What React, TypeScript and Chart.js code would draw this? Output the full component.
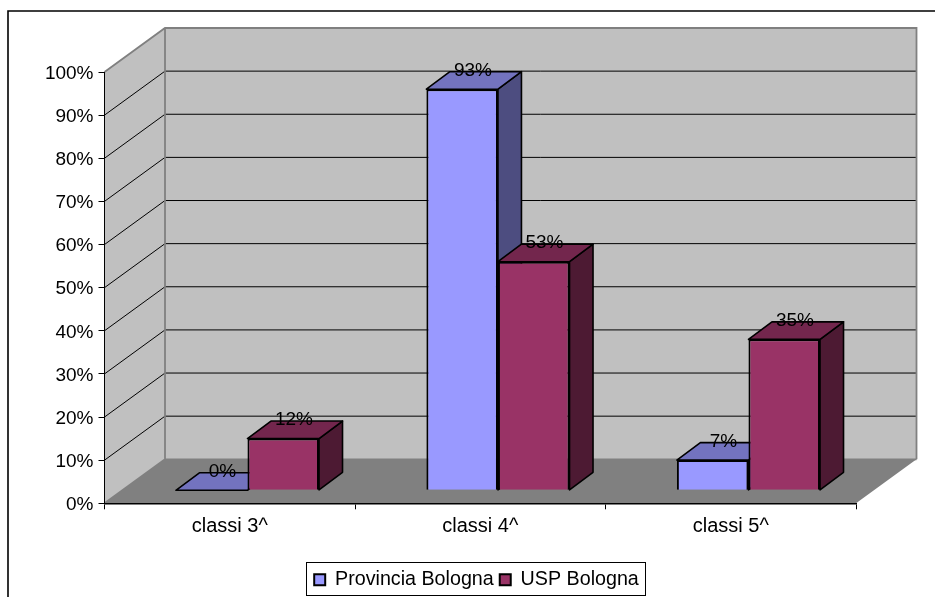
import React, { useEffect, useRef } from "react";
import { Chart, registerables } from "chart.js";

Chart.register(...registerables);

const categories = ["classi 3^", "classi 4^", "classi 5^"];
const provinciaBologna = [0, 93, 7];
const uspBologna = [12, 53, 35];
const seriesNames = ["Provincia Bologna", "USP Bologna"];
const frontColors = ["#9999FF", "#993366"];
const topColors = ["#7373BF", "#73264D"];
const sideColors = ["#4D4D80", "#4D1A33"];

const FONT = '"Liberation Sans", Arial, sans-serif';
const WALL = { dx: 60.5, dy: -44 };
const BAR_PLANE = { dx: 17.7, dy: -13 };
const BAR_DEPTH = { dx: 23.5, dy: -17.5 };

const poly = (ctx: any, pts: number[][], fill: string | null, stroke?: string, lw = 1) => {
  ctx.beginPath();
  pts.forEach((p, i) => (i ? ctx.lineTo(p[0], p[1]) : ctx.moveTo(p[0], p[1])));
  ctx.closePath();
  if (fill) {
    ctx.fillStyle = fill;
    ctx.fill();
  }
  if (stroke) {
    ctx.strokeStyle = stroke;
    ctx.lineWidth = lw;
    ctx.lineJoin = "round";
    ctx.stroke();
  }
};

const threeD = {
  id: "threeD",
  afterLayout(chart: any) {
    const lg = chart.legend;
    lg.left = 18;
    lg.right = 935;
    lg.top += 2.5;
    lg.bottom += 2.5;
    lg.adjustHitBoxes();
  },
  beforeDraw(chart: any) {
    const { ctx, width, height } = chart;
    const { left, right } = chart.chartArea;
    const y = chart.scales.y;
    const y0 = y.getPixelForValue(0);
    const y100 = y.getPixelForValue(100);
    ctx.save();
    // outer frame, cropped by the page on the right and the bottom
    ctx.strokeStyle = "#000";
    ctx.lineWidth = 1.6;
    ctx.beginPath();
    ctx.moveTo(8, height + 2);
    ctx.lineTo(8, 11);
    ctx.lineTo(width + 2, 11);
    ctx.stroke();

    const bx = WALL.dx;
    const by = WALL.dy;
    // side wall, floor, back wall
    poly(ctx, [[left, y0], [left + bx, y0 + by], [left + bx, y100 + by], [left, y100]], "#C0C0C0");
    poly(ctx, [[left + bx, y0 + by], [right + bx, y0 + by], [right + bx, y100 + by], [left + bx, y100 + by]], "#C0C0C0");
    poly(ctx, [[left, y0], [left + bx, y0 + by], [right + bx, y0 + by], [right, y0]], "#808080");

    // gridlines on both walls
    ctx.strokeStyle = "#000";
    ctx.lineWidth = 1;
    y.ticks.forEach((t: any) => {
      if (t.value <= 0 || t.value >= 100) return;
      const p = y.getPixelForValue(t.value);
      ctx.beginPath();
      ctx.moveTo(left, p);
      ctx.lineTo(left + bx, p + by);
      ctx.lineTo(right + bx, p + by);
      ctx.stroke();
    });

    // wall outline
    ctx.strokeStyle = "#808080";
    ctx.lineWidth = 1.8;
    ctx.beginPath();
    ctx.moveTo(left, y100);
    ctx.lineTo(left + bx, y100 + by);
    ctx.lineTo(right + bx, y100 + by);
    ctx.lineTo(right + bx, y0 + by);
    ctx.moveTo(left, y0);
    ctx.lineTo(left + bx, y0 + by);
    ctx.lineTo(left + bx, y100 + by);
    ctx.moveTo(left + bx, y0 + by);
    ctx.lineTo(right + bx, y0 + by);
    ctx.stroke();
    ctx.restore();
  },
  beforeDatasetsDraw(chart: any) {
    const { ctx } = chart;
    ctx.save();
    ctx.translate(BAR_PLANE.dx, BAR_PLANE.dy);
    const metas = chart.data.datasets.map((_: any, i: number) => chart.getDatasetMeta(i));
    metas.forEach((meta: any, i: number) => {
      meta.data.forEach((bar: any) => {
        const hw = bar.width / 2;
        const l = bar.x - hw;
        const r = bar.x + hw;
        const t = bar.y;
        const b = bar.base;
        const { dx, dy } = BAR_DEPTH;
        if (b - t > 0.5) {
          poly(ctx, [[r, t], [r + dx, t + dy], [r + dx, b + dy], [r, b]], sideColors[i], "#000", 1.6);
        }
        poly(ctx, [[l, t], [l + dx, t + dy], [r + dx, t + dy], [r, t]], topColors[i], "#000", 1.6);
      });
      meta.controller.draw();
    });
    ctx.restore();

    // value labels sit on the back edge of each bar's top
    ctx.save();
    ctx.font = `19px ${FONT}`;
    ctx.fillStyle = "#000";
    ctx.textAlign = "center";
    ctx.textBaseline = "middle";
    chart.data.datasets.forEach((ds: any, i: number) => {
      metas[i].data.forEach((bar: any, j: number) => {
        ctx.fillText(
          `${ds.data[j]}%`,
          bar.x + BAR_PLANE.dx + BAR_DEPTH.dx / 2 - 1,
          bar.y + BAR_PLANE.dy + BAR_DEPTH.dy - 1
        );
      });
    });
    ctx.restore();
    return false;
  },
  afterDraw(chart: any) {
    const { ctx, legend } = chart;
    const boxes = legend.legendHitBoxes;
    if (!boxes || !boxes.length) return;
    const l = boxes[0].left - 8;
    const r = boxes[boxes.length - 1].left + boxes[boxes.length - 1].width + 6;
    ctx.save();
    ctx.strokeStyle = "#000";
    ctx.lineWidth = 1;
    ctx.strokeRect(Math.round(l) + 0.5, 562.5, Math.round(r - l), 33);
    ctx.restore();
  },
};

export default function App() {
  const ref = useRef<HTMLCanvasElement>(null);
  useEffect(() => {
    const chart = new Chart(ref.current as HTMLCanvasElement, {
      type: "bar",
      data: {
        labels: categories,
        datasets: [
          { label: seriesNames[0], data: provinciaBologna, backgroundColor: frontColors[0], borderColor: "#000", borderWidth: 2 },
          { label: seriesNames[1], data: uspBologna, backgroundColor: frontColors[1], borderColor: "#000", borderWidth: 2 },
        ],
      },
      options: {
        animation: false,
        responsive: false,
        layout: { padding: { left: 0, right: 79, top: 72, bottom: 0 } },
        categoryPercentage: 0.5714,
        barPercentage: 1,
        plugins: {
          title: { display: false },
          tooltip: { enabled: false },
          legend: {
            display: true,
            position: "bottom",
            labels: {
              font: { family: FONT, size: 19.7 },
              color: "#000",
              boxWidth: 11,
              boxHeight: 11,
              padding: 6,
            },
          },
        },
        scales: {
          x: {
            grid: { offset: true, drawOnChartArea: false, drawTicks: true, tickLength: 6, color: "#000" },
            border: { display: true, color: "#000", width: 1.5 },
            ticks: { font: { family: FONT, size: 20 }, color: "#000", padding: 5, maxRotation: 0 },
            afterFit: (s: any) => {
              s.height = 58;
            },
          },
          y: {
            min: 0,
            max: 100,
            grid: { drawOnChartArea: false, drawTicks: true, tickLength: 6, color: "#000" },
            border: { display: true, color: "#000", width: 1 },
            ticks: {
              stepSize: 10,
              font: { family: FONT, size: 19 },
              color: "#000",
              padding: 5,
              labelOffset: 1.5,
              callback: (v: any) => `${v}%`,
            },
            afterFit: (s: any) => {
              s.width = 104.5;
            },
          },
        },
      } as any,
      plugins: [threeD as any],
    });
    return () => chart.destroy();
  }, []);
  return (
    <div style={{ position: "absolute", left: 0, top: 0, width: 935, height: 597, overflow: "hidden", background: "#fff" }}>
      <canvas ref={ref} width={935} height={597} style={{ display: "block" }} />
    </div>
  );
}
